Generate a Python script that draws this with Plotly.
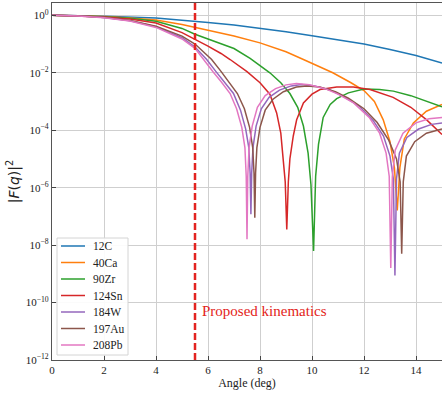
import plotly.graph_objects as go

# Squared form factors |F(q)|^2 versus scattering angle (deg) for several nuclei
ANGLE_12C = [0, 2, 4, 5.5, 6, 7, 8, 9, 10, 11, 12, 13, 14, 15]
FF_12C = [1.0, 0.93, 0.81, 0.63, 0.56, 0.46, 0.355, 0.27, 0.195, 0.14, 0.10, 0.065, 0.040, 0.022]

ANGLE_40CA = [0, 1, 2, 3, 4, 5, 5.5, 6, 7, 8, 9, 9.67, 10.3, 10.8, 11.5, 12.0, 12.4,
              12.74, 13.0, 13.17, 13.28, 13.38, 13.55, 13.9, 14.4, 15.0]
FF_40CA = [1.0, 0.98, 0.91, 0.81, 0.69, 0.48, 0.38, 0.30, 0.19, 0.11, 0.054, 0.029, 0.016,
           1.0e-2, 4.5e-3, 2.4e-3, 1.0e-3, 2.3e-4, 4.0e-5, 5.0e-6, 1.6e-7, 5.0e-6, 5.0e-5,
           1.8e-4, 4.6e-4, 7.9e-4]

ANGLE_90ZR = [0, 2, 3, 4, 5, 5.5, 6, 6.5, 7, 7.62, 8.0, 8.38, 8.8, 9.15, 9.45, 9.67, 9.85,
              9.96, 10.06, 10.14, 10.25, 10.43, 10.7, 10.95, 11.4, 12.0, 12.6, 13.13, 13.8,
              14.41, 15.0]
FF_90ZR = [1.0, 0.89, 0.79, 0.62, 0.35, 0.22, 0.15, 0.10, 0.070, 0.032, 0.018, 0.010, 4.5e-3,
           1.9e-3, 6.3e-4, 1.4e-4, 1.6e-5, 1.26e-6, 6.3e-9, 2.5e-6, 3.2e-5, 2.8e-4, 7.9e-4,
           1.26e-3, 2.0e-3, 2.7e-3, 2.6e-3, 2.3e-3, 1.6e-3, 1.0e-3, 6.5e-4]

ANGLE_124SN = [0, 2, 3, 4, 5, 5.5, 6.0, 6.5, 6.85, 7.5, 8.0, 8.38, 8.64, 8.8, 8.9, 8.97,
               9.03, 9.09, 9.15, 9.28, 9.41, 9.67, 10.0, 10.31, 10.95, 11.59, 12.23, 13.12,
               13.8, 14.41, 15.0]
FF_124SN = [1.0, 0.87, 0.74, 0.54, 0.25, 0.148, 0.085, 0.047, 0.029, 0.011, 4.5e-3, 1.8e-3,
            4.0e-4, 7.9e-5, 1.0e-5, 1.6e-6, 3.5e-8, 1.6e-6, 1.0e-5, 6.3e-5, 2.3e-4, 8.9e-4,
            1.8e-3, 2.6e-3, 3.2e-3, 3.2e-3, 2.6e-3, 1.4e-3, 6.3e-4, 2.3e-4, 7.1e-5]

ANGLE_184W = [0, 1, 2, 3, 4, 5, 5.5, 5.95, 6.3, 6.6, 6.98, 7.25, 7.45, 7.57, 7.62, 7.65,
              7.68, 7.73, 7.85, 8.05, 8.35, 8.75, 9.2, 9.6, 10.1, 10.7, 11.2, 11.8, 12.35,
              12.75, 13.0, 13.13, 13.19, 13.25, 13.36, 13.65, 14.1, 14.6, 15.0]
FF_184W = [1.0, 0.96, 0.84, 0.645, 0.40, 0.166, 0.079, 0.029, 0.0112, 5.0e-3, 1.9e-3,
           5.0e-4, 1.1e-4, 2.5e-5, 3.2e-6, 1.2e-7, 3.2e-6, 2.5e-5, 1.4e-4, 5.6e-4, 1.4e-3,
           2.5e-3, 3.5e-3, 3.9e-3, 3.5e-3, 2.5e-3, 1.5e-3, 7.1e-4, 2.2e-4, 6.3e-5, 1.26e-5,
           2.0e-6, 8.7e-10, 2.0e-6, 1.6e-5, 5.6e-5, 1.1e-4, 1.6e-4, 1.8e-4]

ANGLE_197AU = [0, 1, 2, 3, 4, 5, 5.5, 6.14, 6.5, 6.8, 7.13, 7.4, 7.6, 7.72, 7.77, 7.80,
               7.83, 7.88, 8.0, 8.2, 8.5, 8.9, 9.4, 9.8, 10.3, 10.9, 11.4, 12.0, 12.5, 12.95,
               13.25, 13.39, 13.45, 13.51, 13.63, 13.95, 14.4, 15.0]
FF_197AU = [1.0, 0.96, 0.85, 0.66, 0.42, 0.19, 0.10, 0.029, 0.0112, 5.0e-3, 1.9e-3,
            5.6e-4, 1.26e-4, 2.5e-5, 3.2e-6, 8.9e-8, 3.2e-6, 2.5e-5, 1.26e-4, 5.0e-4,
            1.2e-3, 2.2e-3, 3.2e-3, 3.5e-3, 3.2e-3, 2.2e-3, 1.3e-3, 5.6e-4, 1.9e-4, 4.5e-5,
            1.0e-5, 1.6e-6, 5.0e-9, 1.6e-6, 1.26e-5, 4.0e-5, 7.9e-5, 1.1e-4]

ANGLE_208PB = [0, 1, 2, 3, 4, 5, 5.5, 5.82, 6.2, 6.5, 6.85, 7.1, 7.3, 7.42, 7.47, 7.5,
               7.53, 7.58, 7.7, 7.9, 8.2, 8.6, 9.0, 9.4, 9.9, 10.5, 11.0, 11.6, 12.2, 12.6,
               12.85, 12.97, 13.03, 13.09, 13.2, 13.5, 14.0, 14.5, 15.0]
FF_208PB = [1.0, 0.955, 0.83, 0.63, 0.38, 0.15, 0.071, 0.029, 0.0107, 5.0e-3, 1.9e-3,
            5.6e-4, 1.26e-4, 2.5e-5, 2.5e-6, 1.6e-8, 2.5e-6, 2.5e-5, 1.4e-4, 6.3e-4, 1.6e-3,
            2.8e-3, 3.8e-3, 4.2e-3, 3.8e-3, 2.8e-3, 1.8e-3, 8.9e-4, 2.8e-4, 7.9e-5, 1.6e-5,
            2.5e-6, 1.6e-9, 2.5e-6, 2.0e-5, 7.9e-5, 1.8e-4, 2.5e-4, 2.8e-4]

SERIES = [
    ("12C", ANGLE_12C, FF_12C, "#1f77b4"),
    ("40Ca", ANGLE_40CA, FF_40CA, "#ff7f0e"),
    ("90Zr", ANGLE_90ZR, FF_90ZR, "#2ca02c"),
    ("124Sn", ANGLE_124SN, FF_124SN, "#d62728"),
    ("184W", ANGLE_184W, FF_184W, "#9467bd"),
    ("197Au", ANGLE_197AU, FF_197AU, "#8c564b"),
    ("208Pb", ANGLE_208PB, FF_208PB, "#e377c2"),
]

KINEMATICS_ANGLE = 5.5
KINEMATICS_LABEL_LOG_Y = -10.3
X_TICKS = [0, 2, 4, 6, 8, 10, 12, 14]
Y_EXPONENTS = [0, -2, -4, -6, -8, -10, -12]

SERIF = "Liberation Serif, Times New Roman, serif"
RED = "#e32420"

# plot-area geometry in pixels (used to place the compact legend box)
W, H = 442, 393
M_L, M_R, M_T, M_B = 52, 0, 3, 33
PW, PH = W - M_L - M_R, H - M_T - M_B


def px_to_paper(xp, yp):
    return (xp - M_L) / PW, (H - M_B - yp) / PH


fig = go.Figure()
for name, x, y, color in SERIES:
    fig.add_trace(go.Scatter(x=x, y=y, mode="lines", name=name, showlegend=False,
                             line=dict(color=color, width=1.5)))

fig.add_shape(type="line", xref="x", yref="paper", x0=KINEMATICS_ANGLE, x1=KINEMATICS_ANGLE,
              y0=0, y1=1, line=dict(color=RED, width=2.5, dash="7px,3px"))
# annotation y on a log axis is given in log10 units
fig.add_annotation(x=KINEMATICS_ANGLE, y=KINEMATICS_LABEL_LOG_Y, xref="x", yref="y",
                   xanchor="left", xshift=5, text="Proposed kinematics", showarrow=False,
                   font=dict(family=SERIF, size=15, color=RED))

# compact legend box in the lower-left corner
bx0, by1 = px_to_paper(57, 238)
bx1, by0 = px_to_paper(128, 355)
fig.add_shape(type="rect", xref="paper", yref="paper", x0=bx0, x1=bx1, y0=by0, y1=by1,
              line=dict(color="#d4d4d4", width=1), fillcolor="rgba(255,255,255,0.9)",
              layer="above")
ROW0, ROW_STEP = 246, 16.5
for i, (name, _, _, color) in enumerate(SERIES):
    yrow = ROW0 + i * ROW_STEP
    lx0, ly = px_to_paper(61, yrow)
    lx1, _ = px_to_paper(85, yrow)
    tx, _ = px_to_paper(91, yrow)
    fig.add_shape(type="line", xref="paper", yref="paper", x0=lx0, x1=lx1, y0=ly, y1=ly,
                  line=dict(color=color, width=1.5), layer="above")
    fig.add_annotation(x=tx, y=ly, xref="paper", yref="paper", xanchor="left",
                       yanchor="middle", text=name, showarrow=False,
                       font=dict(family=SERIF, size=11.5, color="#222"))

ytext = []
for e in Y_EXPONENTS:
    ytext.append("10<sup>%s</sup>" % (str(e).replace("-", "−")))

fig.update_layout(
    width=W, height=H,
    margin=dict(l=M_L, r=M_R, t=M_T, b=M_B),
    paper_bgcolor="white", plot_bgcolor="white",
    font=dict(family=SERIF, size=11, color="#222"),
    showlegend=False,
    xaxis=dict(range=[0, 15], tickvals=X_TICKS, ticks="inside", ticklen=4,
               tickcolor="#444", showline=True, linecolor="#555", linewidth=1.2, mirror=True,
               showgrid=True, gridcolor="#cfcfcf", gridwidth=1.3, zeroline=False,
               tickfont=dict(family=SERIF, size=11, color="#222"),
               title=dict(text="Angle (deg)", font=dict(family=SERIF, size=12, color="#222"),
                          standoff=2)),
    yaxis=dict(type="log", range=[-12, 0.43], tickvals=[10 ** e for e in Y_EXPONENTS],
               ticktext=ytext, ticks="inside", ticklen=4, tickcolor="#444",
               showline=True, linecolor="#555", linewidth=1.2, mirror=True,
               showgrid=True, gridcolor="#cfcfcf", gridwidth=1.3, zeroline=False,
               tickfont=dict(family=SERIF, size=11, color="#222"),
               title=dict(text="|<i>F</i>(<i>q</i>)|<sup>2</sup>",
                          font=dict(family="DejaVu Sans, sans-serif", size=14, color="#222"),
                          standoff=2)),
)

fig.write_html("out.html")
